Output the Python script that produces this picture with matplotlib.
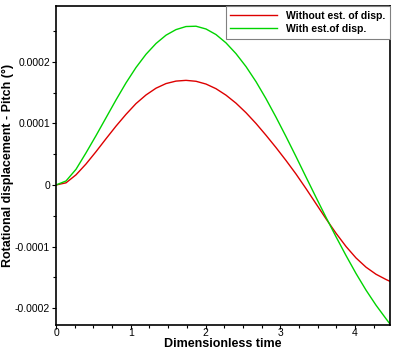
import matplotlib
matplotlib.use("Agg")
import matplotlib.pyplot as plt
from matplotlib.ticker import FixedLocator, MultipleLocator, FixedFormatter

plt.rcParams['font.family'] = ['Liberation Sans', 'DejaVu Sans']

# Dimensionless time
time = [0.0, 0.134, 0.268, 0.401, 0.535, 0.669, 0.803, 0.936, 1.070, 1.204,
        1.338, 1.472, 1.605, 1.739, 1.873, 2.007, 2.140, 2.274, 2.408, 2.542,
        2.676, 2.809, 2.943, 3.077, 3.211, 3.344, 3.478, 3.612, 3.746, 3.880,
        4.013, 4.147, 4.281, 4.415, 4.468]

# Pitch (x1e-4 deg)
without_est = [0.0, 0.035, 0.165, 0.34, 0.54, 0.75, 0.955, 1.145, 1.32, 1.46,
               1.57, 1.645, 1.685, 1.697, 1.682, 1.637, 1.562, 1.457, 1.327, 1.172,
               0.997, 0.807, 0.607, 0.397, 0.177, -0.058, -0.303, -0.548, -0.783, -0.998,
               -1.183, -1.333, -1.448, -1.533, -1.563]

with_est = [0.0, 0.065, 0.255, 0.52, 0.80, 1.09, 1.38, 1.655, 1.905, 2.12,
            2.295, 2.43, 2.52, 2.57, 2.575, 2.53, 2.44, 2.305, 2.13, 1.92,
            1.675, 1.40, 1.10, 0.785, 0.46, 0.13, -0.20, -0.525, -0.84, -1.145,
            -1.435, -1.705, -1.95, -2.17, -2.255]

series_labels = ["Without est. of disp.", "With est.of disp."]
x_ticks = [0, 1, 2, 3, 4]
x_tick_labels = ["0", "1", "2", "3", "4"]
y_ticks = [-0.0002, -0.0001, 0.0, 0.0001, 0.0002]
y_tick_labels = ["-0.0002", "-0.0001", "0", "0.0001", "0.0002"]

scale = 1e-4
fig = plt.figure(figsize=(3.99, 3.54), dpi=100)
ax = fig.add_axes([56/399, 29/354, 334/399, 319/354])

ax.plot(time, [v*scale for v in without_est], color='#dd0000', lw=1.0, label=series_labels[0])
ax.plot(time, [v*scale for v in with_est], color='#00d400', lw=1.0, label=series_labels[1])

ax.set_xlim(0, 4.468)
ax.set_ylim(-2.271e-4, 2.903e-4)

ax.xaxis.set_major_locator(FixedLocator(x_ticks))
ax.xaxis.set_major_formatter(FixedFormatter(x_tick_labels))
ax.yaxis.set_major_locator(FixedLocator(y_ticks))
ax.yaxis.set_major_formatter(FixedFormatter(y_tick_labels))
ax.xaxis.set_minor_locator(MultipleLocator(0.25))
ax.yaxis.set_minor_locator(MultipleLocator(0.00005))

ax.tick_params(axis='both', which='major', direction='out', length=3.0, width=0.8,
               labelsize=7.5, colors='black')
ax.tick_params(axis='both', which='minor', direction='out', length=2.2, width=0.8)
ax.tick_params(axis='x', which='major', pad=-0.5)
ax.tick_params(axis='y', which='major', pad=1.2)

for s in ax.spines.values():
    s.set_linewidth(1.2)
    s.set_color('black')

ax.set_xlabel("Dimensionless time", fontsize=9, fontweight='bold')
ax.set_ylabel("Rotational displacement - Pitch (°)", fontsize=9, fontweight='bold')
ax.xaxis.set_label_coords(0.5, -0.040)
ax.yaxis.set_label_coords(-0.125, 0.5)

leg = ax.legend(loc='upper right', bbox_to_anchor=(1, 1), borderaxespad=0,
                prop={'weight': 'bold', 'size': 7.5}, handlelength=4.5,
                handletextpad=0.85, borderpad=0.45, labelspacing=0.3,
                fancybox=False, framealpha=1, edgecolor='#808080')
leg.get_frame().set_linewidth(0.8)

fig.savefig("out.png", dpi=100)
